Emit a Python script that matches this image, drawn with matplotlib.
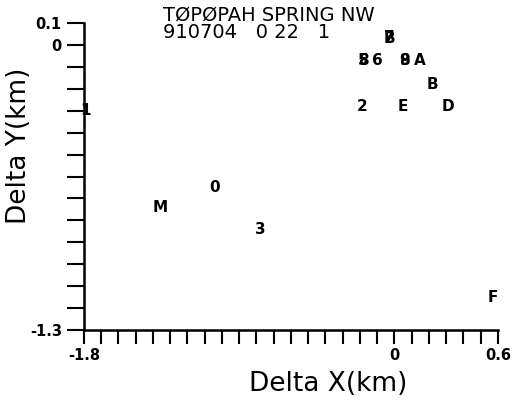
import matplotlib
matplotlib.use("Agg")
import matplotlib.pyplot as plt
import numpy as np
from matplotlib.ticker import FixedLocator, FixedFormatter

# event symbols and their offsets from the reference station (km)
labels = ["1", "0", "M", "3", "2", "E", "D", "B", "A", "9", "8", "6", "5", "8", "7", "B", "F"]
dx = [-1.79, -1.04, -1.36, -0.78, -0.19, 0.05, 0.31, 0.22, 0.15, 0.06, 0.06, -0.10, -0.18, -0.18, -0.03, -0.03, 0.57]
dy = [-0.30, -0.65, -0.74, -0.84, -0.28, -0.28, -0.28, -0.18, -0.07, -0.07, -0.07, -0.07, -0.07, -0.07, 0.035, 0.03, -1.15]

x_ticks = [round(v, 1) for v in np.arange(-1.8, 0.61, 0.1)]
x_ticklabels = {-1.8: "-1.8", 0.0: "0", 0.6: "0.6"}
y_ticks = [round(v, 1) for v in np.arange(-1.3, 0.11, 0.1)]
y_ticklabels = {0.1: "0.1", 0.0: "0", -1.3: "-1.3"}

title = "TØPØPAH SPRING NW\n910704   0 22   1"

fig = plt.figure(figsize=(5.2, 4.0), dpi=100)
ax = fig.add_axes([0.1615, 0.175, 0.796, 0.7675])
ax.set_xlim(-1.8, 0.6)
ax.set_ylim(-1.3, 0.1)

for s in ("top", "right"):
    ax.spines[s].set_visible(False)
for s in ("left", "bottom"):
    ax.spines[s].set_linewidth(1.8)

ax.xaxis.set_major_locator(FixedLocator(x_ticks))
ax.xaxis.set_major_formatter(FixedFormatter([x_ticklabels.get(v, "") for v in x_ticks]))
ax.yaxis.set_major_locator(FixedLocator(y_ticks))
ax.yaxis.set_major_formatter(FixedFormatter([y_ticklabels.get(v, "") for v in y_ticks]))
ax.tick_params(direction="out", width=1.5, labelsize=10.5)
ax.tick_params(axis="x", length=10, pad=3)
ax.tick_params(axis="y", length=12, pad=4)
for t in ax.get_xticklabels() + ax.get_yticklabels():
    t.set_fontweight("bold")

# inward half of the zero tick on the y axis
ax.yaxis.set_minor_locator(FixedLocator([0.0]))
ax.tick_params(axis="y", which="minor", direction="in", length=8, width=1.5)

for lab, x, y in zip(labels, dx, dy):
    ax.text(x, y, lab, ha="center", va="center", fontsize=11, fontweight="bold", clip_on=False)

ax.set_xlabel("Delta X(km)", fontsize=19)
ax.xaxis.set_label_coords(0.59, -0.135)
ax.set_ylabel("Delta Y(km)", fontsize=19)
ax.yaxis.set_label_coords(-0.125, 0.60)
fig.text(0.313, 0.985, title, ha="left", va="top", fontsize=14, linespacing=0.85)

fig.savefig("out.png", dpi=100)
